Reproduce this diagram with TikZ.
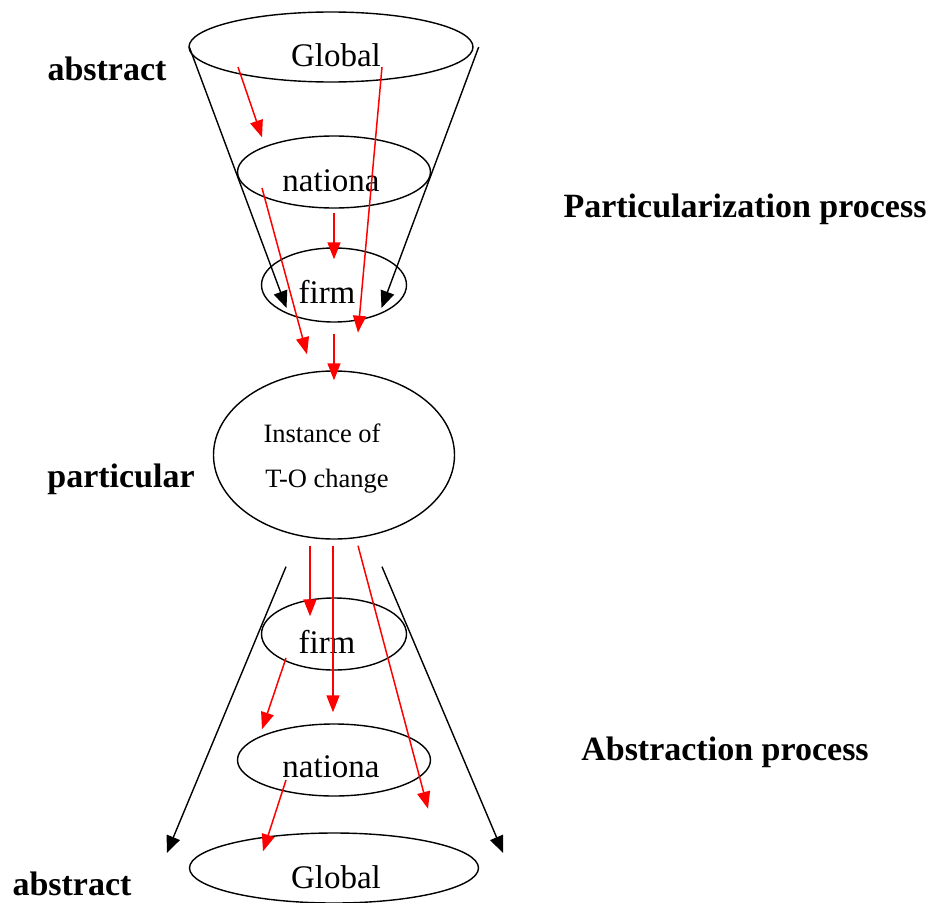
\documentclass[tikz,border=0pt]{standalone}
\usepackage{fontspec}
\setmainfont{Liberation Serif}
\usetikzlibrary{arrows.meta,shapes.geometric,calc}

\begin{document}
\begin{tikzpicture}[
  x=1pt, y=-1pt,
  lvl/.style={draw,ellipse,inner sep=0pt,line width=1.4pt},
  big/.style={font=\fontsize{33}{38}\selectfont,anchor=base,inner sep=0pt},
  small/.style={font=\fontsize{26.5}{30}\selectfont,anchor=base,inner sep=0pt},
  side/.style={font=\fontsize{34}{40}\selectfont\bfseries,anchor=base,inner sep=0pt},
  cone/.style={-{Triangle[length=17pt,width=14pt]},line width=1.4pt},
  flow/.style={-{Triangle[length=17pt,width=13pt]},line width=1.5pt,red}]
  \useasboundingbox (0,0) rectangle (934,902);
  % particularization funnel
  \node[lvl,minimum width=284pt,minimum height=70pt] (gtop) at (331,47) {};
  \node[lvl,minimum width=193pt,minimum height=72pt] (ntop) at (334,172) {};
  \node[lvl,minimum width=145pt,minimum height=74pt] (ftop) at (334,285) {};
  \node[big] (gtoptxt) at (336,66) {Global};
  \node[big] (ntoptxt) at (331,191) {nationa};
  \node[big] (ftoptxt) at (327,303) {firm};
  % the instance
  \node[lvl,minimum width=241pt,minimum height=168pt] (inst) at (334,455) {};
  \node[small] (insttxt1) at (322,442) {Instance of};
  \node[small] (insttxt2) at (327,487) {T-O change};
  % abstraction funnel
  \node[lvl,minimum width=145pt,minimum height=72pt] (fbot) at (334,634) {};
  \node[lvl,minimum width=193pt,minimum height=72pt] (nbot) at (334,760) {};
  \node[lvl,minimum width=289pt,minimum height=70pt] (gbot) at (334,868) {};
  \node[big] (fbottxt) at (327,653) {firm};
  \node[big] (nbottxt) at (331,777) {nationa};
  \node[big] (gbottxt) at (336,888) {Global};
  % side labels
  \node[side] (abstop) at (107,80) {abstract};
  \node[side] (partproc) at (745,217) {Particularization process};
  \node[side] (partic) at (121,487) {particular};
  \node[side] (absproc) at (725,760) {Abstraction process};
  \node[side] (absbot) at (72,895) {abstract};
  % cone sides
  \draw[cone] ($(gtop.west)+(1,0)$) -- ($(ftop)+(-47.5,23)$);
  \draw[cone] ($(gtop.east)+(5,0)$) -- ($(ftop)+(47.5,23)$);
  \draw[cone] ($(inst.south)+(-48,27)$) -- ($(gbot.west)+(-22,-15)$);
  \draw[cone] ($(inst.south)+(48,27)$) -- ($(gbot.east)+(24,-15)$);
  % red flows, top
  \draw[flow] ($(gtop)+(-93,20)$) -- ($(ntop.north)+(-72,2)$);
  \draw[flow] ($(gtop)+(51,20)$) -- ($(ftop.south)+(24,10)$);
  \draw[flow] ($(ntop)+(-72,16)$) -- ($(inst.north)+(-27,-16)$);
  \draw[flow] ($(ntop.south)+(0,4)$) -- ($(ftop.north)+(0,12)$);
  \draw[flow] ($(ftop.south)+(0,11)$) -- ($(inst.north)+(0,10)$);
  % red flows, bottom
  \draw[flow] ($(inst.south)+(-24,6)$) -- ($(fbot.north)+(-24,19)$);
  \draw[flow] ($(inst.south)+(-1,6)$) -- ($(nbot.north)+(-1,-11)$);
  \draw[flow] ($(inst.south)+(24,6)$) -- ($(nbot.south)+(94,12)$);
  \draw[flow] ($(fbot)+(-48,24)$) -- ($(nbot.north)+(-72,6)$);
  \draw[flow] ($(nbot)+(-48,20)$) -- ($(gbot.north)+(-71,19)$);
\end{tikzpicture}
\end{document}
